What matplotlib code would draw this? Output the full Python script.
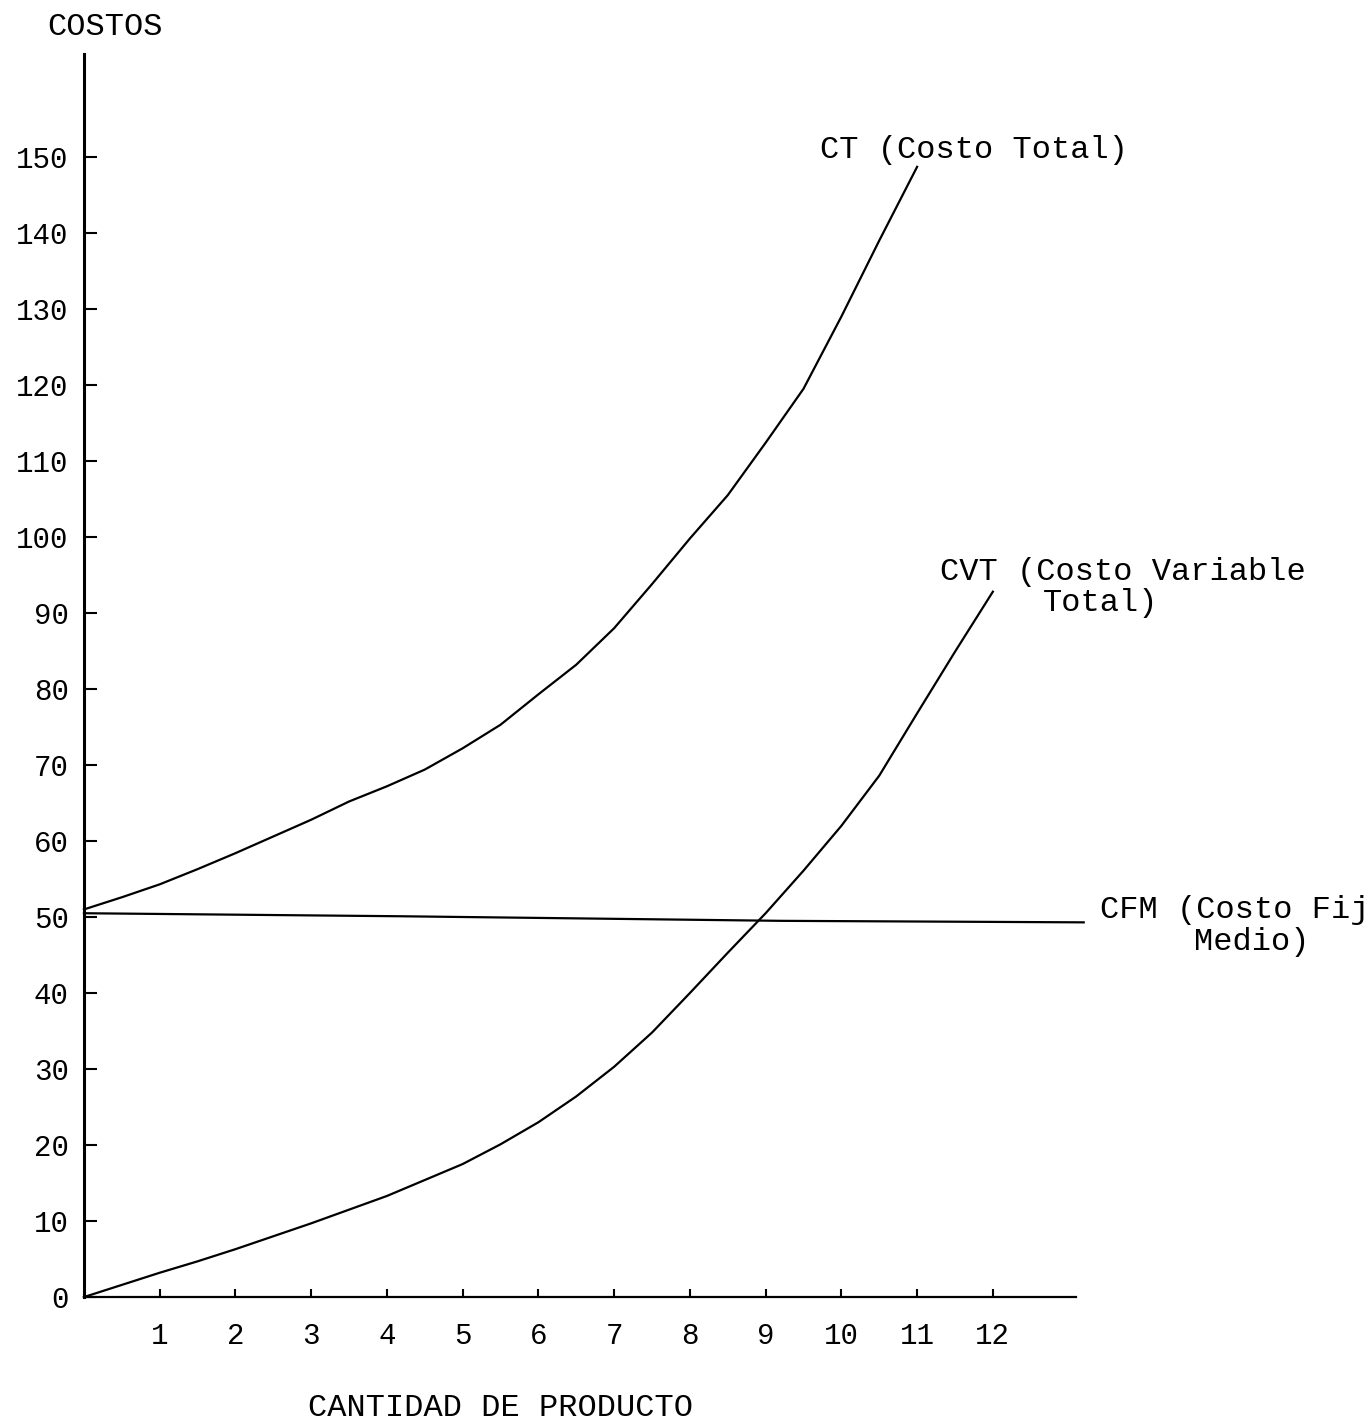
import numpy as np
import matplotlib
matplotlib.use("Agg")
import matplotlib.pyplot as plt

# fuente tipo máquina de escribir
plt.rcParams['font.family'] = ['Liberation Mono', 'DejaVu Sans Mono']

# datos
q_ct = [0, 0.5, 1, 1.5, 2, 2.5, 3, 3.5, 4, 4.5, 5, 5.5, 6, 6.5, 7, 7.5, 8, 8.5, 9, 9.5, 10, 10.5, 11]
ct = [51, 52.6, 54.3, 56.3, 58.4, 60.6, 62.8, 65.2, 67.2, 69.4, 72.2, 75.3, 79.3, 83.2, 88.0,
      93.8, 99.8, 105.5, 112.4, 119.5, 129.0, 139.0, 148.7]

q_cvt = [0, 0.5, 1, 1.5, 2, 2.5, 3, 3.5, 4, 4.5, 5, 5.5, 6, 6.5, 7, 7.5, 8, 8.5, 9, 9.5, 10, 10.5, 11, 11.5, 12]
cvt = [0, 1.6, 3.2, 4.7, 6.3, 8.0, 9.7, 11.5, 13.3, 15.4, 17.5, 20.1, 23.0, 26.4, 30.3, 34.8,
       40.0, 45.3, 50.5, 56.1, 62.0, 68.6, 76.8, 84.9, 92.8]

q_cfm = [0, 4.2, 9.2, 13.2]
cfm = [50.5, 50.1, 49.5, 49.3]

x_ticks = list(range(1, 13))
y_ticks = list(range(0, 151, 10))

# figura
fig = plt.figure(figsize=(13.65, 14.23), dpi=100)
ax = fig.add_axes([0.0615, 0.0885, 0.7269, 0.8733])

ax.plot(q_ct, ct, color='black', linewidth=1.6, clip_on=False)
ax.plot(q_cvt, cvt, color='black', linewidth=1.6, clip_on=False)
ax.plot(q_cfm, cfm, color='black', linewidth=1.6, clip_on=False)

ax.set_xlim(0, 13.1)
ax.set_ylim(0, 163.5)

ax.spines['top'].set_visible(False)
ax.spines['right'].set_visible(False)
ax.spines['left'].set_linewidth(2.2)
ax.spines['bottom'].set_linewidth(1.6)

ax.set_xticks(x_ticks)
ax.set_yticks(y_ticks)
ax.tick_params(axis='y', direction='in', length=9, width=1.5, pad=11, labelsize=21)
ax.tick_params(axis='x', direction='in', length=6, width=1.5, pad=18, labelsize=21)

# etiquetas
ax.text(-0.49, 167.1, "COSTOS", fontsize=23, ha='left', va='center', clip_on=False)
ax.text(5.5, -14.6, "CANTIDAD DE PRODUCTO", fontsize=23, ha='center', va='center', clip_on=False)

ax.text(9.72, 150.9, "CT (Costo Total)", fontsize=23, ha='left', va='center', clip_on=False)
ax.text(11.3, 95.4, "CVT (Costo Variable", fontsize=23, ha='left', va='center', clip_on=False)
ax.text(12.66, 91.3, "Total)", fontsize=23, ha='left', va='center', clip_on=False)
# en el original el texto queda cortado por el borde derecho
ax.text(13.41, 50.9, "CFM (Costo Fijo", fontsize=23, ha='left', va='center', clip_on=False)
ax.text(14.65, 46.7, "Medio)", fontsize=23, ha='left', va='center', clip_on=False)

plt.savefig("out.png", dpi=100)
